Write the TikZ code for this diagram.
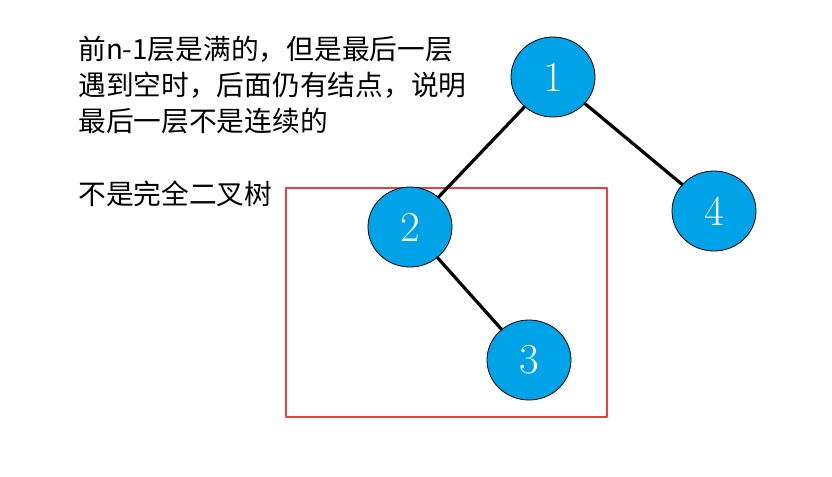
\documentclass[tikz,border=0pt]{standalone}
\usepackage{fontspec}
\newfontfamily\cjk{Noto Sans CJK SC}
\usetikzlibrary{shapes.geometric}
\definecolor{TreeBlue}{HTML}{00A2E8}
\definecolor{BoxRed}{HTML}{F03C3C}

\begin{document}
\begin{tikzpicture}[x=0.75pt,y=-0.75pt,line cap=round,line join=round,
  tnode/.style={ellipse,draw=black,line width=0.6pt,fill=TreeBlue,text=white,
    minimum width=63pt,minimum height=60pt,inner sep=0pt,font=\fontsize{32}{34}\selectfont},
  tedge/.style={line width=2.4pt}]
  \useasboundingbox (0,0) rectangle (832,476);
  \draw[BoxRed,line width=0.8pt] (286,188) rectangle (607,417);
  \node[tnode] (n1) at (553,77) {1};\node[tnode] (n2) at (410,227) {2};
  \node[tnode] (n3) at (529,360) {3};\node[tnode] (n4) at (714,211) {4};
  \draw[tedge] (n1)--(n2);\draw[tedge] (n1)--(n4);\draw[tedge] (n2)--(n3);
  \node[anchor=north west,inner sep=0pt,align=left,font=\cjk\fontsize{20.8}{27}\selectfont] (note) at (78,36)
    {前n-1层是满的，但是最后一层\\遇到空时，后面仍有结点，说明\\最后一层不是连续的};
  \node[anchor=north west,inner sep=0pt,font=\cjk\fontsize{20.8}{27}\selectfont] (verdict) at (78,181) {不是完全二叉树};
\end{tikzpicture}
\end{document}
